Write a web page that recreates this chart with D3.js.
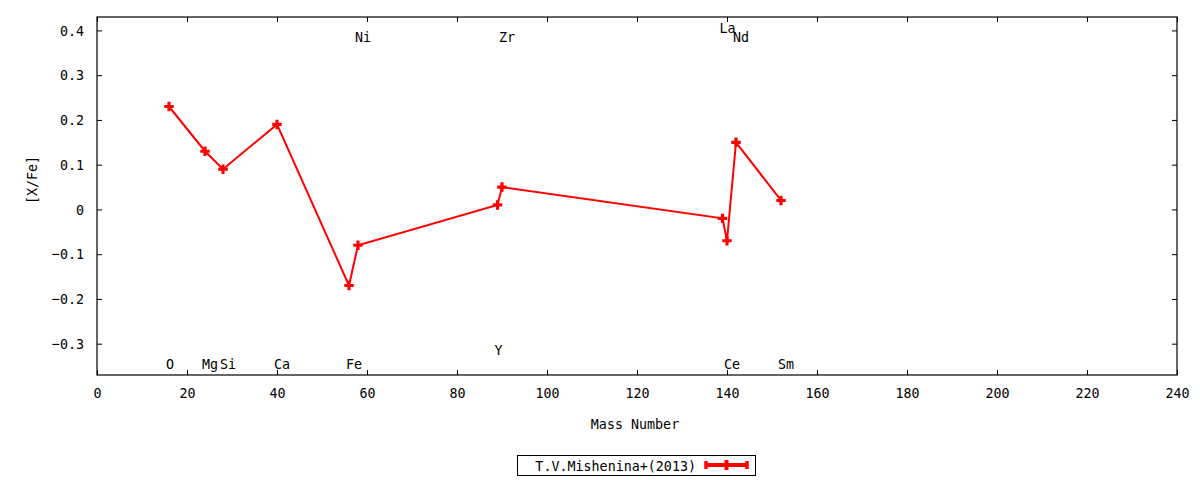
<!DOCTYPE html>
<html>
<head>
<meta charset="utf-8">
<script src="https://cdn.jsdelivr.net/npm/d3@7"></script>
<style>
  html, body { margin: 0; padding: 0; background: #fff; }
  text { font-family: "DejaVu Sans Mono", monospace; font-size: 14.5px; fill: #000; }
</style>
</head>
<body>
<svg id="chart" width="1200" height="480"></svg>
<script>
// Data
const elements = ["O", "Mg", "Si", "Ca", "Fe", "Ni", "Y", "Zr", "La", "Ce", "Nd", "Sm"];
const massNumbers = [16, 24, 28, 40, 56, 58, 89, 90, 139, 140, 142, 152];
const xFe = [0.23, 0.13, 0.09, 0.19, -0.17, -0.08, 0.01, 0.05, -0.02, -0.07, 0.15, 0.02];
const labelY = [-0.345, -0.345, -0.345, -0.345, -0.345, 0.385, -0.315, 0.385, 0.405, -0.345, 0.385, -0.345];
const xTicks = [0, 20, 40, 60, 80, 100, 120, 140, 160, 180, 200, 220, 240];
const yTicks = [-0.3, -0.2, -0.1, 0, 0.1, 0.2, 0.3, 0.4];
const seriesName = "T.V.Mishenina+(2013)";

const svg = d3.select("#chart");
const W = 1200, H = 480;
const margin = { left: 97, right: 23, top: 17, bottom: 105 };
const iw = W - margin.left - margin.right;
const ih = H - margin.top - margin.bottom;

const x = d3.scaleLinear().domain([0, 240]).range([margin.left, margin.left + iw]);
const y = d3.scaleLinear().domain([-0.37, 0.43]).range([margin.top + ih, margin.top]);

const red = "#ff0000";

// Axes with inward ticks (mirrored)
const tickLen = 5;
const fmtY = d => (d === 0 ? "0" : d3.format(".1f")(d));

const gx = svg.append("g").attr("transform", `translate(0,${margin.top + ih})`)
  .call(d3.axisBottom(x).tickValues(xTicks).tickSize(-tickLen).tickPadding(13).tickFormat(d3.format("d")));
const gxTop = svg.append("g").attr("transform", `translate(0,${margin.top})`)
  .call(d3.axisTop(x).tickValues(xTicks).tickSize(-tickLen).tickFormat(""));
const gy = svg.append("g").attr("transform", `translate(${margin.left},0)`)
  .call(d3.axisLeft(y).tickValues(yTicks).tickSize(-tickLen).tickPadding(13).tickFormat(fmtY));
const gyR = svg.append("g").attr("transform", `translate(${margin.left + iw},0)`)
  .call(d3.axisRight(y).tickValues(yTicks).tickSize(-tickLen).tickFormat(""));

[gx, gxTop, gy, gyR].forEach(g => {
  g.select(".domain").remove();
  g.selectAll(".tick line").attr("stroke", "#000").attr("stroke-width", 1);
  g.selectAll("text").attr("font-family", "DejaVu Sans Mono, monospace").attr("font-size", "14.5px").attr("fill", "#000");
});

// Frame
svg.append("rect")
  .attr("x", margin.left).attr("y", margin.top)
  .attr("width", iw).attr("height", ih)
  .attr("fill", "none").attr("stroke", "#000").attr("stroke-width", 1.2);

// Axis titles
svg.append("text")
  .attr("x", margin.left + iw / 2 - 2).attr("y", 429)
  .attr("text-anchor", "middle")
  .text("Mass Number");
svg.append("text")
  .attr("transform", `translate(37,${margin.top + ih / 2 - 16}) rotate(-90)`)
  .attr("text-anchor", "middle")
  .text("[X/Fe]");

// Element labels
const pts = elements.map((e, i) => ({ e, m: massNumbers[i], v: xFe[i], ly: labelY[i] }));
svg.append("g").selectAll("text").data(pts).join("text")
  .attr("x", d => x(d.m) - 3)
  .attr("y", d => y(d.ly))
  .attr("dy", "0.35em")
  .attr("text-anchor", "start")
  .text(d => d.e);

// Line
const line = d3.line().x(d => x(d.m)).y(d => y(d.v));
svg.append("path").datum(pts)
  .attr("d", line)
  .attr("fill", "none")
  .attr("stroke", red)
  .attr("stroke-width", 2);

// Markers (thick plus)
const plus = d3.symbol().type(d3.symbolCross).size(50);
svg.append("g").selectAll("path").data(pts).join("path")
  .attr("transform", d => `translate(${x(d.m)},${y(d.v)})`)
  .attr("d", plus)
  .attr("fill", red);

// Legend
const lg = svg.append("g");
lg.append("rect")
  .attr("x", 517.5).attr("y", 455.5).attr("width", 238).attr("height", 20)
  .attr("fill", "none").attr("stroke", "#000").attr("stroke-width", 1);
lg.append("text")
  .attr("x", 696).attr("y", 465.5).attr("dy", "0.35em")
  .attr("text-anchor", "end")
  .text(seriesName);
const lx1 = 706, lx2 = 747, lyC = 465;
lg.append("line").attr("x1", lx1).attr("x2", lx2).attr("y1", lyC).attr("y2", lyC)
  .attr("stroke", red).attr("stroke-width", 4);
[lx1, lx2].forEach(px => {
  lg.append("line").attr("x1", px).attr("x2", px).attr("y1", lyC - 4).attr("y2", lyC + 4)
    .attr("stroke", red).attr("stroke-width", 3.5);
});
lg.append("line").attr("x1", (lx1 + lx2) / 2).attr("x2", (lx1 + lx2) / 2).attr("y1", lyC - 5).attr("y2", lyC + 5)
  .attr("stroke", red).attr("stroke-width", 4);

// Condense glyphs horizontally to match the narrow terminal font
svg.selectAll("text").each(function () {
  const len = this.getComputedTextLength();
  if (len > 0) {
    d3.select(this).attr("textLength", len * 0.92).attr("lengthAdjust", "spacingAndGlyphs");
  }
});
</script>
</body>
</html>
